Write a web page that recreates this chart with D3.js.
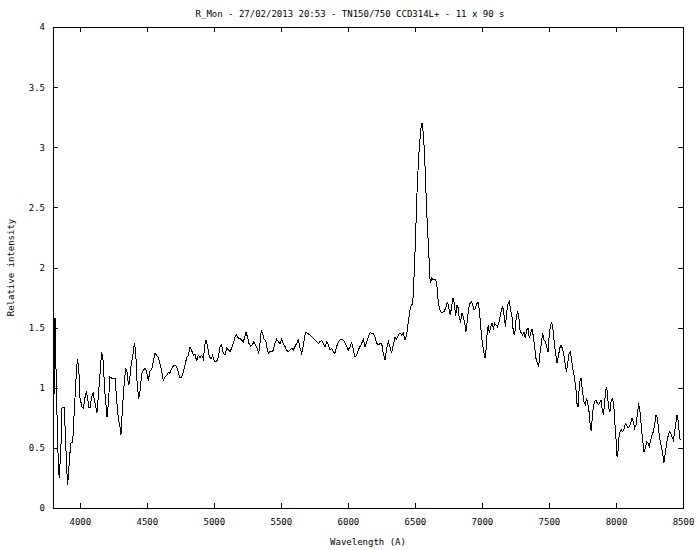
<!DOCTYPE html>
<html>
<head>
<meta charset="utf-8">
<script src="https://cdn.jsdelivr.net/npm/d3@7"></script>
<style>
  html, body { margin: 0; padding: 0; background: #fff; }
  svg { display: block; }
  text { font-family: "DejaVu Sans Mono", "Liberation Mono", monospace; font-size: 9px; fill: #000; }
</style>
</head>
<body>
<svg id="chart" width="700" height="550"></svg>
<script>
const titleText = "R_Mon - 27/02/2013 20:53 - TN150/750 CCD314L+ - 11 x 90 s";
const xLabel = "Wavelength (A)";
const yLabel = "Relative intensity";
const xTicks = [4000, 4500, 5000, 5500, 6000, 6500, 7000, 7500, 8000, 8500];
const yTicks = [0, 0.5, 1, 1.5, 2, 2.5, 3, 3.5, 4];

const wavelength = [
3800,3802,3810,3815,3827,3840,3847,3860,3867,3882,3890,3902,3909,3919,3932,3947,3959,3972,3982,3992,
4001,4016,4026,4039,4049,4059,4066,4076,4088,4101,4108,4118,4128,4138,4151,4163,4173,4188,4203,4213,
4225,4238,4263,4275,4287,4300,4307,4317,4330,4342,4355,4362,4369,4382,4394,4407,4417,4427,4439,4449,
4461,4474,4489,4499,4511,4524,4536,4548,4561,4573,4586,4598,4610,4623,4636,4648,4660,4673,4685,4698,
4710,4723,4735,4747,4760,4772,4785,4797,4810,4822,4834,4847,4859,4872,4884,4897,4909,4921,4934,4941,
4954,4966,4979,4991,5003,5021,5033,
5046,5058,5071,5083,5096,5108,5120,5133,5145,5158,5170,5183,5195,5207,5220,5232,5240,5250,5262,5275,
5287,5299,5312,5324,5334,5344,5354,5364,5374,5387,5394,5406,5419,5431,5444,5456,5469,5481,5494,5506,
5518,5531,5543,5556,5568,5581,5593,5605,5618,5630,5643,5655,5668,5680,5688,5700,5717,5730,5742,5755,
5767,5780,5792,5804,5817,5829,5842,5854,5867,5879,5891,5904,5916,5929,5941,5954,5966,5979,5991,6003,
6016,6028,6041,6053,6066,6078,6090,6103,6115,6128,6140,6153,6165,6177,6190,6202,6215,6227,6240,
6252,6264,6277,6289,6302,6314,6326,6339,6351,6364,6376,6389,6401,6414,6426,6438,6451,6463,6476,6483,
6488,6498,6508,6518,6530,6543,6553,6563,6573,6583,6593,6603,6610,6617,6625,6637,6650,6662,6670,6680,
6690,6704,6719,6732,6744,6754,6764,6774,6784,6794,6804,6814,6824,6831,6841,6851,6861,6874,6881,6891,
6901,6911,6921,6931,6941,6951,6961,6973,6983,6993,7003,7013,7023,7033,7040,7048,7055,7065,7075,7085,
7095,7105,7115,7125,7135,7145,7155,7165,7175,7184,7194,7204,7214,7224,7234,7244,7254,7264,7274,7284,
7294,7304,7314,7324,7334,7344,7354,7364,7374,7384,7393,7403,7413,7423,7433,7443,7453,7463,7473,7483,
7493,7503,7513,7520,7530,7540,7550,7560,7570,7580,7590,7600,7610,7620,7630,7640,7650,7660,7669,7679,
7689,7702,7709,7717,7724,7732,7739,7746,7754,7761,7771,7781,7791,7801,7809,7816,7824,7831,7841,7851,
7861,7871,7881,7888,7896,7906,7913,7921,7928,7935,7945,7955,7965,7975,7985,7993,8000,8008,8015,8023,
8030,8040,8050,8060,8070,8080,8090,8100,8110,8120,8129,8139,8149,8159,8169,8179,8189,8199,8209,8219,
8229,8239,8249,8259,8269,8279,8289,8299,8309,8318,8328,8338,8348,8358,8368,8378,8388,8398,8408,8418,
8428,8438,8448,8455,8463,8470,8478,8488
];

const intensity = [
0.40,0.65,1.08,1.58,0.90,0.34,0.25,0.54,0.83,0.84,0.67,0.34,0.19,0.34,0.54,0.55,0.81,1.08,1.24,1.17,
0.92,0.84,0.83,0.92,0.97,0.91,0.84,0.83,0.92,0.96,0.90,0.85,0.79,0.93,1.12,1.30,1.23,0.95,0.76,0.87,
1.09,1.08,1.08,0.90,0.75,0.67,0.61,0.81,1.02,1.16,1.12,1.02,1.04,1.18,1.26,1.37,1.30,1.05,0.91,0.97,
1.11,1.15,1.16,1.13,1.06,1.14,1.15,1.22,1.29,1.27,1.25,1.20,1.14,1.06,1.09,1.10,1.13,1.12,1.16,1.18,
1.19,1.17,1.13,1.08,1.09,1.13,1.19,1.25,1.27,1.34,1.31,1.27,1.28,1.22,1.27,1.25,1.27,1.24,1.36,1.40,
1.34,1.26,1.24,1.27,1.22,1.22,1.25,
1.342,1.356,1.286,1.272,1.328,1.314,1.300,1.328,1.369,1.425,1.439,1.411,1.411,1.397,1.383,1.425,1.461,1.425,1.369,1.347,
1.356,1.383,1.356,1.328,1.281,1.369,1.475,1.453,1.403,1.392,1.342,1.286,1.300,1.300,1.314,1.369,1.403,1.383,1.369,1.403,
1.369,1.342,1.314,1.300,1.314,1.328,1.314,1.342,1.369,1.397,1.328,1.286,1.356,1.439,1.461,1.453,1.439,1.425,1.411,1.397,
1.383,1.369,1.383,1.392,1.369,1.342,1.383,1.356,1.314,1.328,1.300,1.286,1.342,1.383,1.397,1.403,1.397,1.369,1.342,1.314,
1.342,1.375,1.314,1.258,1.272,1.314,1.342,1.369,1.403,1.342,1.383,1.425,1.458,1.453,1.453,1.425,1.369,1.356,1.369,
1.369,1.286,1.231,1.328,1.383,1.342,1.286,1.356,1.419,1.403,1.439,1.453,1.439,1.453,1.397,1.439,1.549,1.647,1.696,1.696,
1.785,2.035,2.367,2.700,2.949,3.143,3.199,3.116,2.921,2.617,2.339,2.146,1.924,1.868,1.910,1.896,1.904,1.882,1.757,1.674,
1.633,1.627,1.633,1.674,1.716,1.660,1.605,1.674,1.749,1.702,1.597,1.688,1.660,1.577,1.549,1.619,1.591,1.522,1.466,1.563,
1.660,1.702,1.716,1.688,1.647,1.660,1.702,1.708,1.619,1.480,1.369,1.308,1.245,1.342,1.480,1.522,1.453,1.508,1.536,1.494,
1.536,1.522,1.508,1.536,1.591,1.647,1.674,1.605,1.508,1.619,1.696,1.716,1.647,1.591,1.466,1.439,1.563,1.633,1.605,1.480,
1.453,1.439,1.466,1.411,1.480,1.494,1.411,1.453,1.486,1.425,1.342,1.245,1.203,1.175,1.286,1.369,1.453,1.397,1.383,1.342,
1.300,1.453,1.522,1.549,1.480,1.369,1.286,1.203,1.258,1.328,1.356,1.328,1.286,1.203,1.134,1.203,1.286,1.300,1.231,1.148,
1.092,0.981,0.870,0.843,0.967,1.064,1.078,1.009,0.940,0.884,0.857,0.912,0.857,0.787,0.663,0.649,0.759,0.843,0.884,0.898,
0.870,0.857,0.884,0.898,0.829,0.773,0.843,0.954,1.009,0.967,0.829,0.801,0.898,0.912,0.829,0.690,0.579,0.427,0.468,0.593,
0.635,0.649,0.635,0.654,0.704,0.690,0.663,0.676,0.704,0.746,0.718,0.663,0.690,0.773,0.870,0.801,0.676,0.565,0.468,0.496,
0.552,0.538,0.510,0.565,0.607,0.635,0.704,0.773,0.746,0.649,0.565,0.510,0.455,0.377,0.455,0.538,0.593,0.635,0.621,0.593,
0.565,0.635,0.718,0.773,0.732,0.649,0.571,0.571
];

const W = 700, H = 550;
const plotLeft = 53, plotRight = 683, plotTop = 27, plotBottom = 508;

const svg = d3.select("#chart");
svg.append("rect").attr("width", W).attr("height", H).attr("fill", "#fff");

const x = d3.scaleLinear().domain([3800, 8500]).range([plotLeft, plotRight]);
const y = d3.scaleLinear().domain([0, 4]).range([plotBottom, plotTop]);

function styleAxis(g) {
  g.select(".domain").remove();
  g.selectAll(".tick line").attr("stroke", "#000").attr("shape-rendering", "crispEdges");
  g.selectAll("text").attr("font-family", '"DejaVu Sans Mono", monospace').attr("font-size", 9).attr("fill", "#000");
}

svg.append("g").attr("transform", `translate(0,${plotBottom})`)
  .call(d3.axisBottom(x).tickValues(xTicks).tickSize(-5).tickPadding(11).tickFormat(d => String(d)))
  .call(styleAxis);
svg.append("g").attr("transform", `translate(0,${plotTop})`)
  .call(d3.axisTop(x).tickValues(xTicks).tickSize(-5).tickFormat(""))
  .call(styleAxis);
svg.append("g").attr("transform", `translate(${plotLeft},0)`)
  .call(d3.axisLeft(y).tickValues(yTicks).tickSize(-5).tickPadding(8).tickFormat(d => String(d)))
  .call(styleAxis);
svg.append("g").attr("transform", `translate(${plotRight},0)`)
  .call(d3.axisRight(y).tickValues(yTicks).tickSize(-5).tickFormat(""))
  .call(styleAxis);

svg.append("rect")
  .attr("x", plotLeft + 0.5).attr("y", plotTop + 0.5)
  .attr("width", plotRight - plotLeft).attr("height", plotBottom - plotTop)
  .attr("fill", "none").attr("stroke", "#000").attr("stroke-width", 1)
  .attr("shape-rendering", "crispEdges");

svg.append("clipPath").attr("id", "plotclip")
  .append("rect").attr("x", plotLeft).attr("y", plotTop).attr("width", plotRight - plotLeft).attr("height", plotBottom - plotTop);

const data = wavelength.map((w, i) => ({ w, v: intensity[i] }));
const line = d3.line().x(d => x(d.w)).y(d => y(d.v));

svg.append("path")
  .datum(data)
  .attr("clip-path", "url(#plotclip)")
  .attr("d", line)
  .attr("fill", "none")
  .attr("stroke", "#000")
  .attr("stroke-width", 1)
  .attr("shape-rendering", "crispEdges");

svg.append("text")
  .attr("x", 350).attr("y", 17)
  .attr("text-anchor", "middle")
  .text(titleText);

svg.append("text")
  .attr("x", (plotLeft + plotRight) / 2).attr("y", 545)
  .attr("text-anchor", "middle")
  .text(xLabel);

svg.append("text")
  .attr("transform", `translate(14,${(plotTop + plotBottom) / 2}) rotate(-90)`)
  .attr("text-anchor", "middle")
  .text(yLabel);
</script>
</body>
</html>
